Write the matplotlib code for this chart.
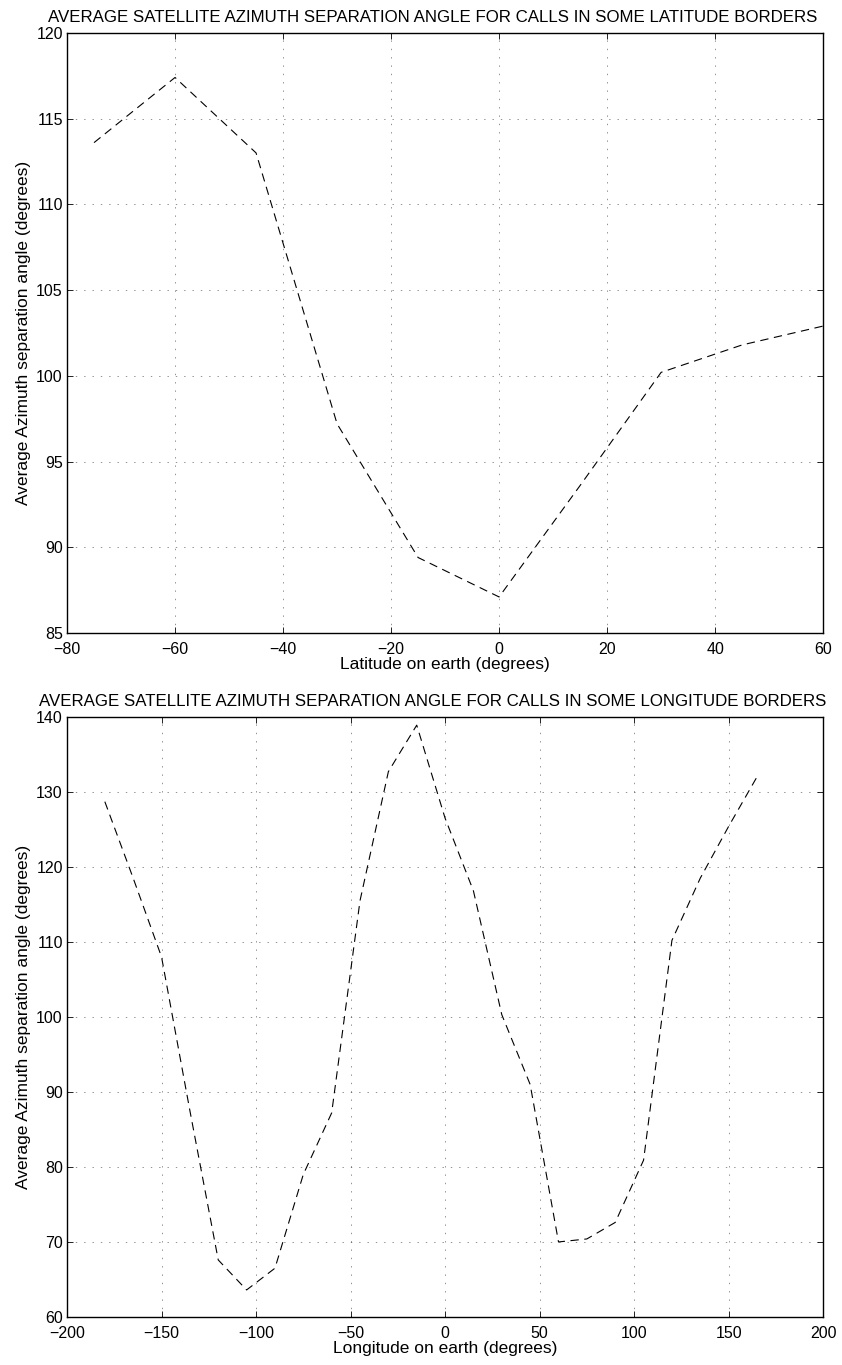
import matplotlib
matplotlib.use('Agg')
import matplotlib.pyplot as plt
from matplotlib.ticker import FuncFormatter

# Latitude data (top panel)
lat = [-75, -60, -45, -30, -15, 0, 15, 30, 45, 60]
lat_angle = [113.6, 117.4, 113.0, 97.2, 89.4, 87.1, 93.6, 100.2, 101.8, 102.9]

# Longitude data (bottom panel)
lon = [-180, -165, -150, -135, -120, -105, -90, -75, -60, -45, -30, -15,
       0, 15, 30, 45, 60, 75, 90, 105, 120, 135, 150, 165]
lon_angle = [128.7, 118.5, 108.0, 87.5, 67.6, 63.6, 66.5, 79.0, 87.2, 115.5, 132.7, 138.9,
             126.5, 116.8, 100.3, 91.0, 70.0, 70.4, 72.6, 80.9, 110.2, 118.5, 125.4, 132.0]

plt.rcParams['font.family'] = ['Liberation Sans', 'DejaVu Sans']
plt.rcParams['lines.scale_dashes'] = False

fig = plt.figure(figsize=(8.42, 13.65), dpi=100)
ax1 = fig.add_axes([0.0796, 0.5363, 0.898, 0.4396])
ax2 = fig.add_axes([0.0796, 0.0352, 0.898, 0.4396])


def minus(v, p):
    return ('\u2212%d' % -v) if v < 0 else '%d' % v


def style(ax):
    ax.grid(True, color='black', linestyle=(0, (1, 5)), linewidth=0.5, alpha=0.6)
    ax.tick_params(direction='in', top=True, right=True, length=4.5, width=0.6, labelsize=11.5)
    ax.tick_params(axis='x', pad=6.5)
    ax.tick_params(axis='y', pad=3)
    ax.xaxis.set_major_formatter(FuncFormatter(minus))
    for s in ax.spines.values():
        s.set_linewidth(1.0)


ax1.plot(lat, lat_angle, color='black', linewidth=0.8, dashes=(6, 4))
ax1.set_xlim(-80, 60)
ax1.set_ylim(85, 120)
ax1.set_xticks(range(-80, 61, 20))
ax1.set_yticks(range(85, 121, 5))
ax1.set_xlabel('Latitude on earth (degrees)', fontsize=12.5, labelpad=0)
ax1.set_ylabel('Average Azimuth separation angle (degrees)', fontsize=12.5, labelpad=4)
ax1.set_title('AVERAGE SATELLITE AZIMUTH SEPARATION ANGLE FOR CALLS IN SOME LATITUDE BORDERS',
              fontsize=12.2, pad=8, x=0.483)
style(ax1)

ax2.plot(lon, lon_angle, color='black', linewidth=0.8, dashes=(6, 4))
ax2.set_xlim(-200, 200)
ax2.set_ylim(60, 140)
ax2.set_xticks(range(-200, 201, 50))
ax2.set_yticks(range(60, 141, 10))
ax2.set_xlabel('Longitude on earth (degrees)', fontsize=12.5, labelpad=0)
ax2.set_ylabel('Average Azimuth separation angle (degrees)', fontsize=12.5, labelpad=4)
ax2.set_title('AVERAGE SATELLITE AZIMUTH SEPARATION ANGLE FOR CALLS IN SOME LONGITUDE BORDERS',
              fontsize=12.2, pad=8, x=0.483)
style(ax2)

fig.savefig('out.png', dpi=100)
